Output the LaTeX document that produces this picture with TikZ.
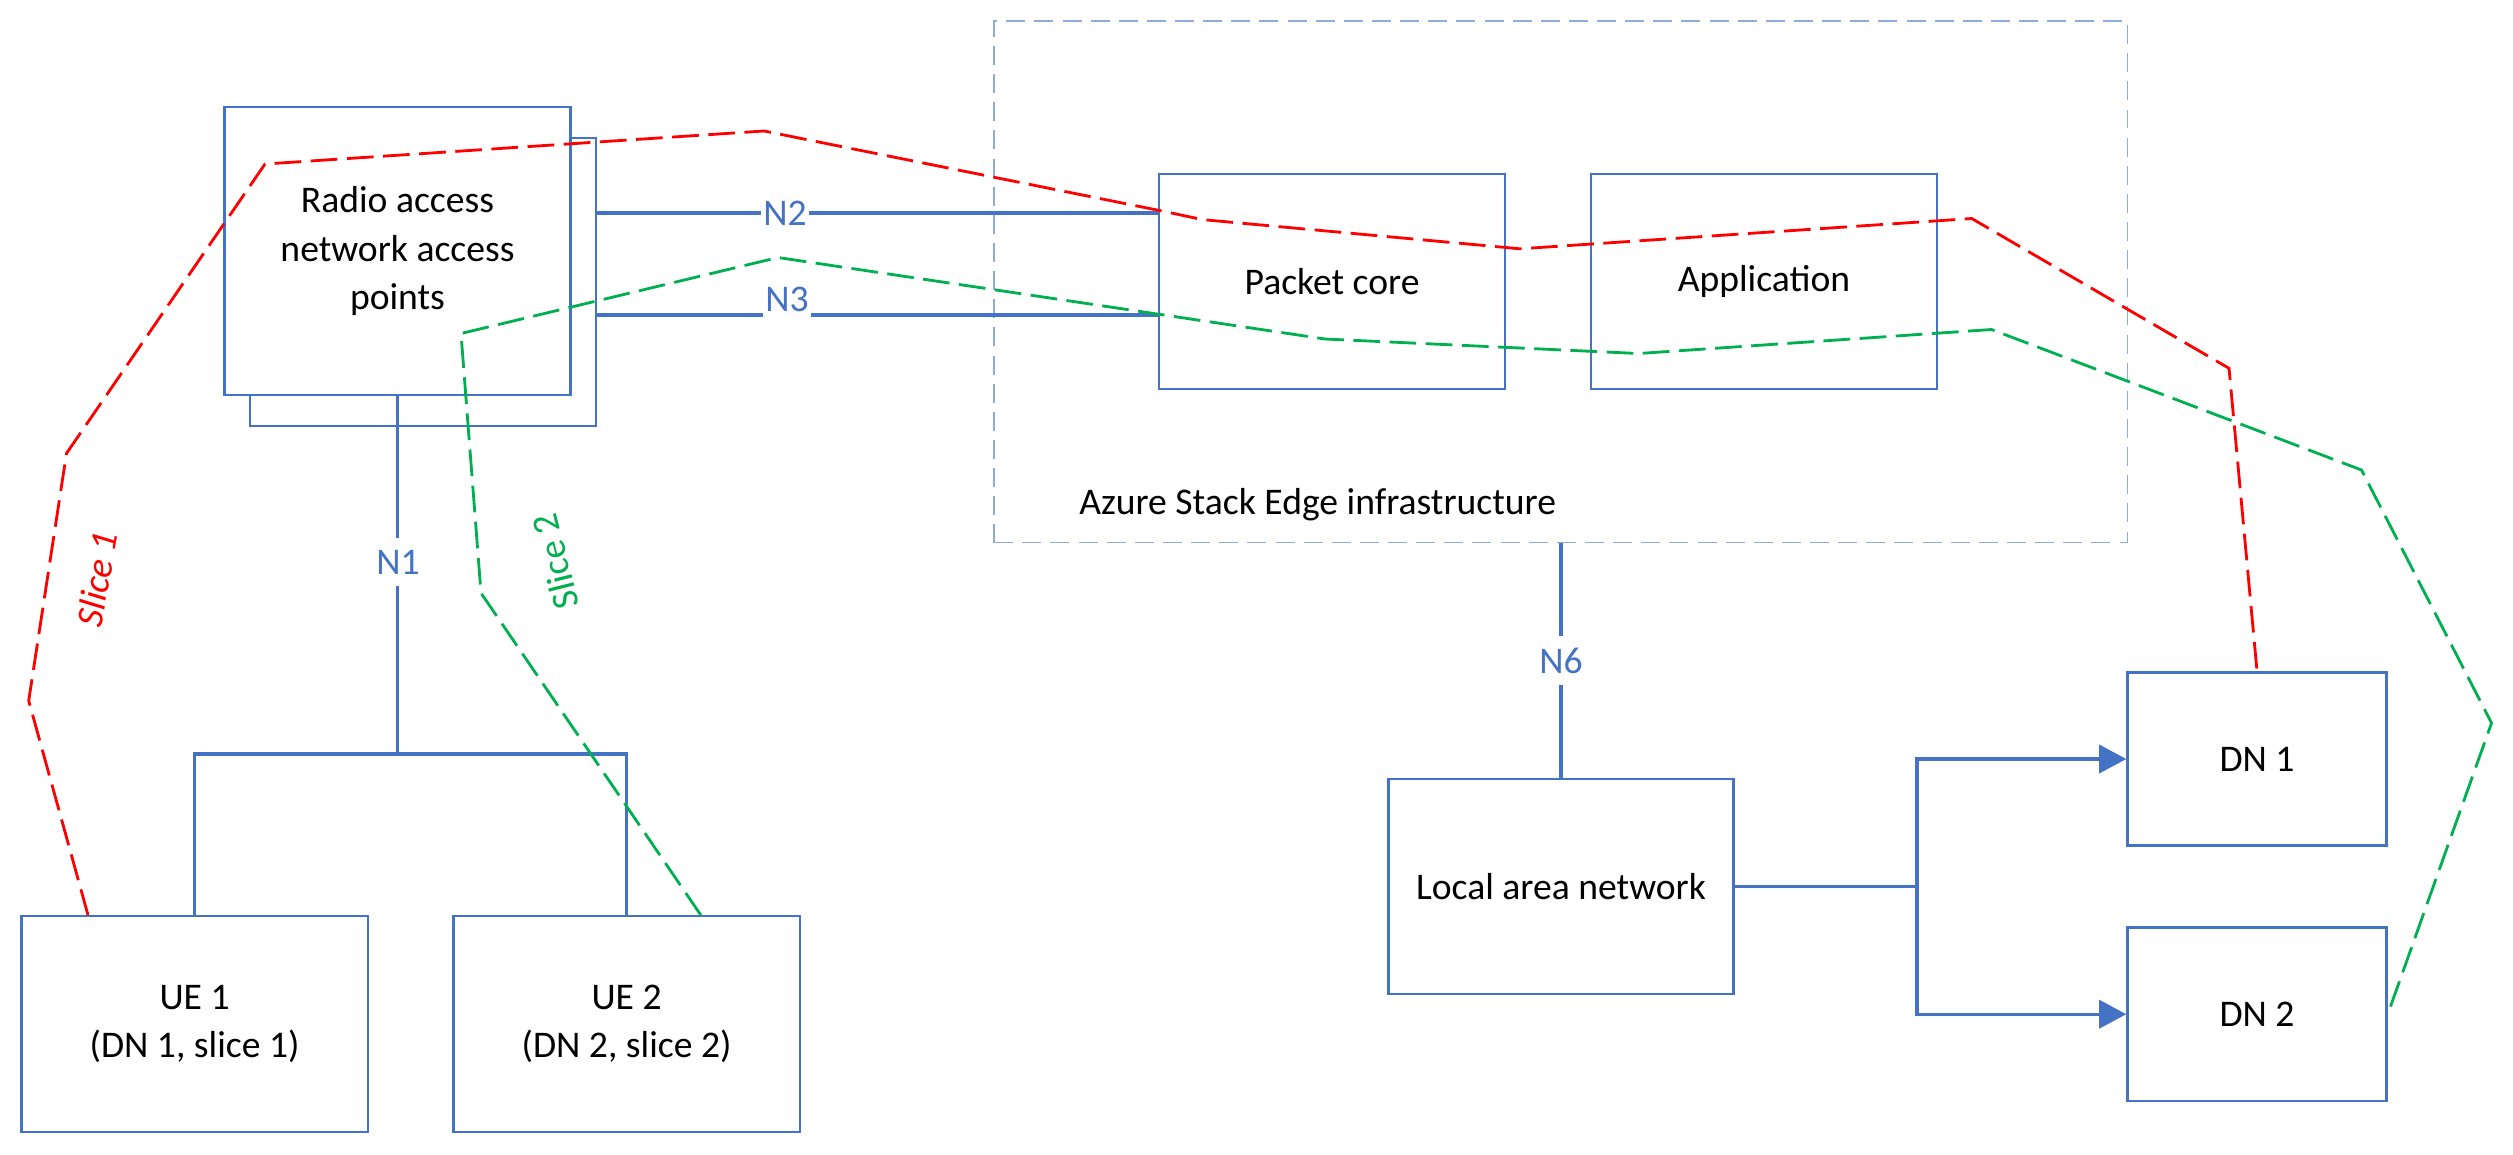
\documentclass[tikz,border=0pt]{standalone}
\usepackage{fontspec}
\setmainfont{Carlito}
\usetikzlibrary{arrows.meta}
\definecolor{obl}{HTML}{4472C4}
\definecolor{azb}{HTML}{8FAADC}
\definecolor{sred}{HTML}{FF0000}
\definecolor{sgreen}{HTML}{00B050}
\tikzset{
  box/.style n args={2}{draw=obl,line width=0.65pt,fill=white,inner sep=0pt,align=center,
    minimum width=#1,minimum height=#2},
  conn/.style={draw=obl,line width=0.9pt},
  arr/.style={conn,-{Triangle[length=7.7pt,width=8pt]}},
  lbl/.style={text=obl,fill=white,inner xsep=0.6pt,inner ysep=3.3pt},
  slicea/.style={draw=sred,line width=0.8pt,dash pattern=on 7.6pt off 2.7pt},
  sliceb/.style={draw=sgreen,line width=0.8pt,dash pattern=on 7.6pt off 2.7pt},
  azbox/.style={draw=azb,line width=0.45pt,dash pattern=on 5.4pt off 2.6pt,inner sep=0pt,
    minimum width=11.325cm,minimum height=5.215cm},
}
\begin{document}
\begin{tikzpicture}[x=0.01cm,y=-0.01cm,font=\fontsize{10.7}{13.7}\selectfont]
\useasboundingbox (0,0) rectangle (2513,1154);
% container
\node[azbox] (az) at (1560.75,281.75) {};
\node[anchor=base west,inner sep=0pt] (azlbl) at (1078.6,514) {Azure Stack Edge infrastructure};
% boxes
\node[box={3.46cm}{2.88cm}] (ranb) at (423,282) {};
\node[box={3.46cm}{2.88cm}] (ran) at (397.5,251) {Radio access\\network access\\points};
\node[box={3.46cm}{2.15cm}] (pc) at (1332,281.5) {Packet core};
\node[box={3.46cm}{2.15cm}] (app) at (1764,281.5) {Application};
\node[box={3.46cm}{2.155cm}] (ue1) at (194.6,1024) {UE 1\\(DN 1, slice 1)};
\node[box={3.46cm}{2.155cm}] (ue2) at (626.6,1024) {UE 2\\(DN 2, slice 2)};
\node[box={3.45cm}{2.155cm}] (lan) at (1561,886.5) {Local area network};
\node[box={2.59cm}{1.73cm}] (dn1) at (2257,759) {DN 1};
\node[box={2.59cm}{1.735cm}] (dn2) at (2257,1014.2) {DN 2};
% N2 / N3
\coordinate (n2a) at (596,213);
\coordinate (n3a) at (596,315);
\draw[conn] (n2a) -- (n2a -| pc.west);
\draw[conn] (n3a) -- (n3a -| pc.west);
\node[lbl] (n2) at (785,213) {N2};
\node[lbl,anchor=base,inner ysep=2.4pt] (n3) at (787,311) {N3};
% N1 tree
\coordinate (br) at (397.5,754);
\draw[conn] (ran.south) -- (br);
\draw[conn] (ue1.north) -- (ue1.north |- br) -- (ue2.north |- br) -- (ue2.north);
\node[lbl] (n1) at (398,562) {N1};
% N6
\draw[conn] (lan.north |- az.south) -- (lan.north);
\node[lbl] (n6) at (1561,660.5) {N6};
% LAN to DNs
\coordinate (split) at (1917,886.5);
\draw[conn] (lan.east) -- (split);
\draw[arr] (split) |- (dn1.west);
\draw[arr] (split) |- (dn2.west);
% slices
\draw[slicea] (88,0 |- ue1.north) -- (28.7,700.7) -- (66.5,453.4) -- (265,164) -- (764,131)
  -- (1160.5,210.7) -- (1202.5,219.6) -- (1520,248.8) -- (1971.7,218.5) -- (2229,368.3) -- (dn1.north);
\draw[sliceb] (700.8,0 |- ue2.north) -- (481,593) -- (461,333.5) -- (778,257.5) -- (1325,339)
  -- (1638.5,353.5) -- (1991.5,329.5) -- (2361.5,470) -- (2491.5,723) -- (dn2.east);
\node[text=sred,rotate=80,font=\fontsize{10.7}{13.7}\selectfont\itshape] (s1) at (97,579) {Slice 1};
\node[text=sgreen,rotate=104] (s2) at (555,561.7) {Slice 2};
\end{tikzpicture}
\end{document}
